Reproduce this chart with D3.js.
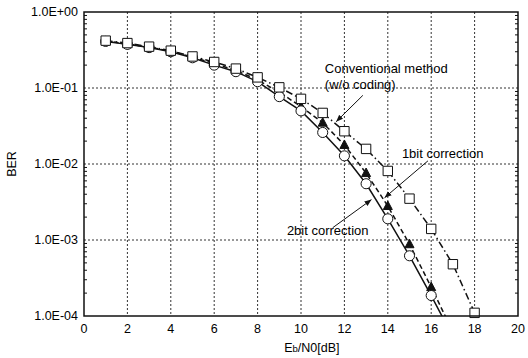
<!DOCTYPE html>
<html lang="en">
<head>
<meta charset="UTF-8" />
<title>BER vs Eb/N0</title>
<style>
  body { margin: 0; background: #fff; }
  svg text { font-family: "Liberation Sans", Arial, sans-serif; fill: #000; }
</style>
</head>
<body>
<svg width="528" height="358"></svg>
<script src="https://d3js.org/d3.v7.min.js"></script>
<script>
// Eb/N0 [dB] per series
var ebnoConv = [1, 2, 3, 4, 5, 6, 7, 8, 9, 10, 11, 12, 13, 14, 15, 16, 17, 18];
var berConv  = [0.42, 0.39, 0.35, 0.31, 0.26, 0.22, 0.18, 0.138, 0.102, 0.072, 0.047, 0.027, 0.0158, 0.0081, 0.0035, 0.0014, 0.00048, 0.00011];

var ebno1bit = [1, 2, 3, 4, 5, 6, 7, 8, 9, 10, 11, 12, 13, 14, 15, 16, 17];
var ber1bit  = [0.415, 0.38, 0.345, 0.305, 0.255, 0.21, 0.17, 0.128, 0.088, 0.057, 0.035, 0.0178, 0.0076, 0.0028, 0.00088, 0.00024, 0.000062];

var ebno2bit = [1, 2, 3, 4, 5, 6, 7, 8, 9, 10, 11, 12, 13, 14, 15, 16, 17];
var ber2bit  = [0.41, 0.375, 0.34, 0.3, 0.25, 0.2, 0.164, 0.121, 0.077, 0.05, 0.026, 0.0128, 0.0055, 0.0019, 0.00062, 0.000186, 0.000053];

var xTicks = [0, 2, 4, 6, 8, 10, 12, 14, 16, 18, 20];
var yTicks = [1, 0.1, 0.01, 0.001, 0.0001];
var yTickLabels = ["1.0E+00", "1.0E-01", "1.0E-02", "1.0E-03", "1.0E-04"];

var svg = d3.select("svg"),
    margin = {top: 12, right: 10, bottom: 42, left: 84},
    width = +svg.attr("width") - margin.left - margin.right,
    height = +svg.attr("height") - margin.top - margin.bottom,
    g = svg.append("g").attr("transform", "translate(" + margin.left + "," + margin.top + ")");

var x = d3.scaleLinear().domain([0, 20]).range([0, width]);
var y = d3.scaleLog().domain([1e-4, 1]).range([height, 0]);

svg.append("defs").append("clipPath").attr("id", "plotclip")
    .append("rect").attr("width", width).attr("height", height);

svg.select("defs").append("marker")
    .attr("id", "arrow")
    .attr("viewBox", "0 0 10 10")
    .attr("refX", 10).attr("refY", 5)
    .attr("markerWidth", 7).attr("markerHeight", 7)
    .attr("orient", "auto")
    .append("path").attr("d", "M0,1L10,5L0,9z").attr("fill", "#111");

// grid
g.append("g").selectAll("line")
    .data(xTicks.slice(1, -1))
    .enter().append("line")
    .attr("x1", function(d) { return x(d); }).attr("x2", function(d) { return x(d); })
    .attr("y1", 0).attr("y2", height)
    .attr("stroke", "#333").attr("stroke-width", 1).attr("stroke-dasharray", "2,2");

g.append("g").selectAll("line")
    .data(yTicks.slice(1, -1))
    .enter().append("line")
    .attr("y1", function(d) { return y(d); }).attr("y2", function(d) { return y(d); })
    .attr("x1", 0).attr("x2", width)
    .attr("stroke", "#333").attr("stroke-width", 1).attr("stroke-dasharray", "2,2");

// minor y ticks on both sides
var minor = [];
[1e-4, 1e-3, 1e-2, 1e-1].forEach(function(dec) {
    for (var k = 2; k <= 9; k++) minor.push(dec * k);
});
g.append("g").selectAll("line")
    .data(minor).enter().append("line")
    .attr("x1", 0).attr("x2", 3)
    .attr("y1", function(d) { return y(d); }).attr("y2", function(d) { return y(d); })
    .attr("stroke", "#111");
g.append("g").selectAll("line")
    .data(minor).enter().append("line")
    .attr("x1", width - 3).attr("x2", width)
    .attr("y1", function(d) { return y(d); }).attr("y2", function(d) { return y(d); })
    .attr("stroke", "#111");

// series
var series = [
    {name: "1bit", xs: ebno1bit, ys: ber1bit, dash: "5,3", shape: "tri"},
    {name: "2bit", xs: ebno2bit, ys: ber2bit, dash: null, shape: "circle"},
    {name: "conv", xs: ebnoConv, ys: berConv, dash: "7,3,1.5,3", shape: "square"}
];

var line = d3.line()
    .x(function(d) { return x(d[0]); })
    .y(function(d) { return y(d[1]); });

series.forEach(function(s) {
    var pts = s.xs.map(function(v, i) { return [v, s.ys[i]]; });
    g.append("path")
        .datum(pts)
        .attr("clip-path", "url(#plotclip)")
        .attr("fill", "none")
        .attr("stroke", "#111")
        .attr("stroke-width", 1.5)
        .attr("stroke-dasharray", s.dash)
        .attr("d", line);
});

series.forEach(function(s) {
    var pts = s.xs.map(function(v, i) { return [v, s.ys[i]]; })
        .filter(function(p) { return p[1] >= 1e-4; });
    var sel = g.append("g").selectAll("path").data(pts).enter().append("path")
        .attr("transform", function(d) { return "translate(" + x(d[0]) + "," + y(d[1]) + ")"; })
        .attr("stroke", "#111").attr("stroke-width", 1);
    if (s.shape === "square") {
        sel.attr("d", "M-4.7,-4.7h9.4v9.4h-9.4z").attr("fill", "#fff");
    } else if (s.shape === "circle") {
        sel.attr("d", d3.symbol().type(d3.symbolCircle).size(80)()).attr("fill", "#fff");
    } else {
        sel.attr("d", "M0,-5L4.5,3.5L-4.5,3.5z").attr("fill", "#111");
    }
});

// frame
g.append("rect")
    .attr("width", width).attr("height", height)
    .attr("fill", "none").attr("stroke", "#111").attr("stroke-width", 1.5);

// tick labels
g.append("g").selectAll("text")
    .data(xTicks).enter().append("text")
    .attr("x", function(d) { return x(d); })
    .attr("y", height + 17)
    .attr("text-anchor", "middle")
    .attr("font-size", "12.5px")
    .text(function(d) { return d; });

g.append("g").selectAll("text")
    .data(yTicks).enter().append("text")
    .attr("x", -6)
    .attr("y", function(d) { return y(d); })
    .attr("dy", "0.35em")
    .attr("text-anchor", "end")
    .attr("font-size", "12.5px")
    .text(function(d, i) { return yTickLabels[i]; });

// axis titles
var xt = svg.append("text")
    .attr("x", margin.left + x(10.5))
    .attr("y", 352)
    .attr("text-anchor", "middle")
    .attr("font-size", "12.5px");
xt.append("tspan").text("E");
xt.append("tspan").attr("font-size", "9.5px").text("b");
xt.append("tspan").text("/N0[dB]");

svg.append("text")
    .attr("transform", "translate(16," + (margin.top + height / 2) + ") rotate(-90)")
    .attr("text-anchor", "middle")
    .attr("font-size", "12.5px")
    .text("BER");

// annotations
function note(lines, tx, ty, ax1, ay1, ax2, ay2) {
    lines.forEach(function(t, i) {
        g.append("text")
            .attr("x", x(tx)).attr("y", y(ty) + i * 16)
            .attr("font-size", "13px")
            .text(t);
    });
    g.append("line")
        .attr("x1", x(ax1)).attr("y1", y(ay1))
        .attr("x2", x(ax2)).attr("y2", y(ay2))
        .attr("stroke", "#111").attr("stroke-width", 1)
        .attr("marker-end", "url(#arrow)");
}

note(["Conventional method", "(w/o coding)"], 11.1, 0.158, 12.85, 0.08, 11.62, 0.036);
note(["1bit correction"], 14.65, 0.012, 15.85, 0.011, 13.85, 0.0036);
note(["2bit correction"], 9.35, 0.00118, 11.46, 0.00145, 13.25, 0.0034);
</script>
</body>
</html>
